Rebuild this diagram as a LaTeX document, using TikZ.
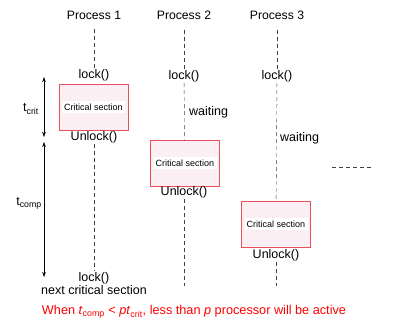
\documentclass[tikz,border=0pt]{standalone}
\usepackage{fontspec}
\setmainfont{Liberation Sans}
\usepackage{xcolor}
\usepackage{tikz}
\usetikzlibrary{arrows.meta, positioning}

\definecolor{boxred}{HTML}{E8505B}
\definecolor{boxpink}{HTML}{FBEFF3}
\definecolor{linegray}{HTML}{404040}

\begin{document}
\begin{tikzpicture}[x=1pt, y=-1pt,
        head/.style={font=\fontsize{12.2}{14}\selectfont, inner sep=1pt},
        call/.style={font=\fontsize{12.5}{14}\selectfont, inner sep=1pt},
        crit/.style={draw=boxred, fill=boxpink, minimum width=69pt, minimum height=46pt, inner sep=0pt,
            font=\fontsize{9}{11}\selectfont,
            path picture={\fill[white] ([yshift=-6pt, xshift=3pt]path picture bounding box.west) rectangle ([yshift=6pt, xshift=-3pt]path picture bounding box.east);}},
        life/.style={draw=linegray, thin, dash pattern=on 4pt off 3pt},
        tarrow/.style={{Stealth[length=5pt, width=3.5pt]}-{Stealth[length=5pt, width=3.5pt]}, draw=black, thin}
    ]
    \useasboundingbox (0,0) rectangle (397,326);

    \node (p1) at (94,15) [head] {Process 1};
    \node (p2) at (184,15) [head] {Process 2};
    \node (p3) at (277,15) [head] {Process 3};

    \node (lock1) at (94,75) [call] {lock()};
    \node (lock2) at (184,76) [call] {lock()};
    \node (lock3) at (277,76) [call] {lock()};

    \node (cs1) at (93.5,107) [crit] {Critical section};
    \node (cs2) at (185,163.5) [crit] {Critical section};
    \node (cs3) at (276,224.5) [crit] {Critical section};

    \node (unl1) at (94,137) [call] {Unlock()};
    \node (unl2) at (184,192) [call] {Unlock()};
    \node (unl3) at (276,255) [call] {Unlock()};

    \node (wait2) at (188,112) [call, anchor=west] {waiting};
    \node (wait3) at (279,138) [call, anchor=west] {waiting};

    \node (lock1b) at (94,278) [call] {lock()};
    \node (next) [call, below=-1pt of lock1b] {next critical section};

    \coordinate (end2) at (184,286);
    \coordinate (end3) at (276,286);
    \coordinate (more1) at (332,167);
    \coordinate (more2) at (373,167);

    % lifelines
    \draw [life, shorten <=9pt] (p1) -- (lock1);
    \draw [life, shorten <=9pt] (p2) -- (lock2);
    \draw [life, shorten <=9pt] (p3) -- (lock3);
    \draw [life] (lock2) -- (cs2);
    \draw [life] (lock3) -- (cs3);
    \draw [life] (unl1) -- (lock1b);
    \draw [life] (unl2) -- (end2);
    \draw [life] (unl3) -- (end3);
    \draw [life] (more1) -- (more2);

    % time spans
    \coordinate (a1) at (44,77);
    \coordinate (a2) at (44,137);
    \coordinate (a3) at (44,142);
    \coordinate (a4) at (44,277);
    \draw [tarrow] (a1) -- (a2);
    \draw [tarrow] (a3) -- (a4);
    \node (tcrit) at (31,109) [call] {t\textsubscript{crit}};
    \node (tcomp) at (29,203) [call] {t\textsubscript{comp}};

    \node (note) at (194,312) [call, text=red, font=\fontsize{12.7}{15}\selectfont] {When \textit{t}\textsubscript{comp} < \textit{pt}\textsubscript{crit}, less than \textit{p} processor will be active};
\end{tikzpicture}
\end{document}
